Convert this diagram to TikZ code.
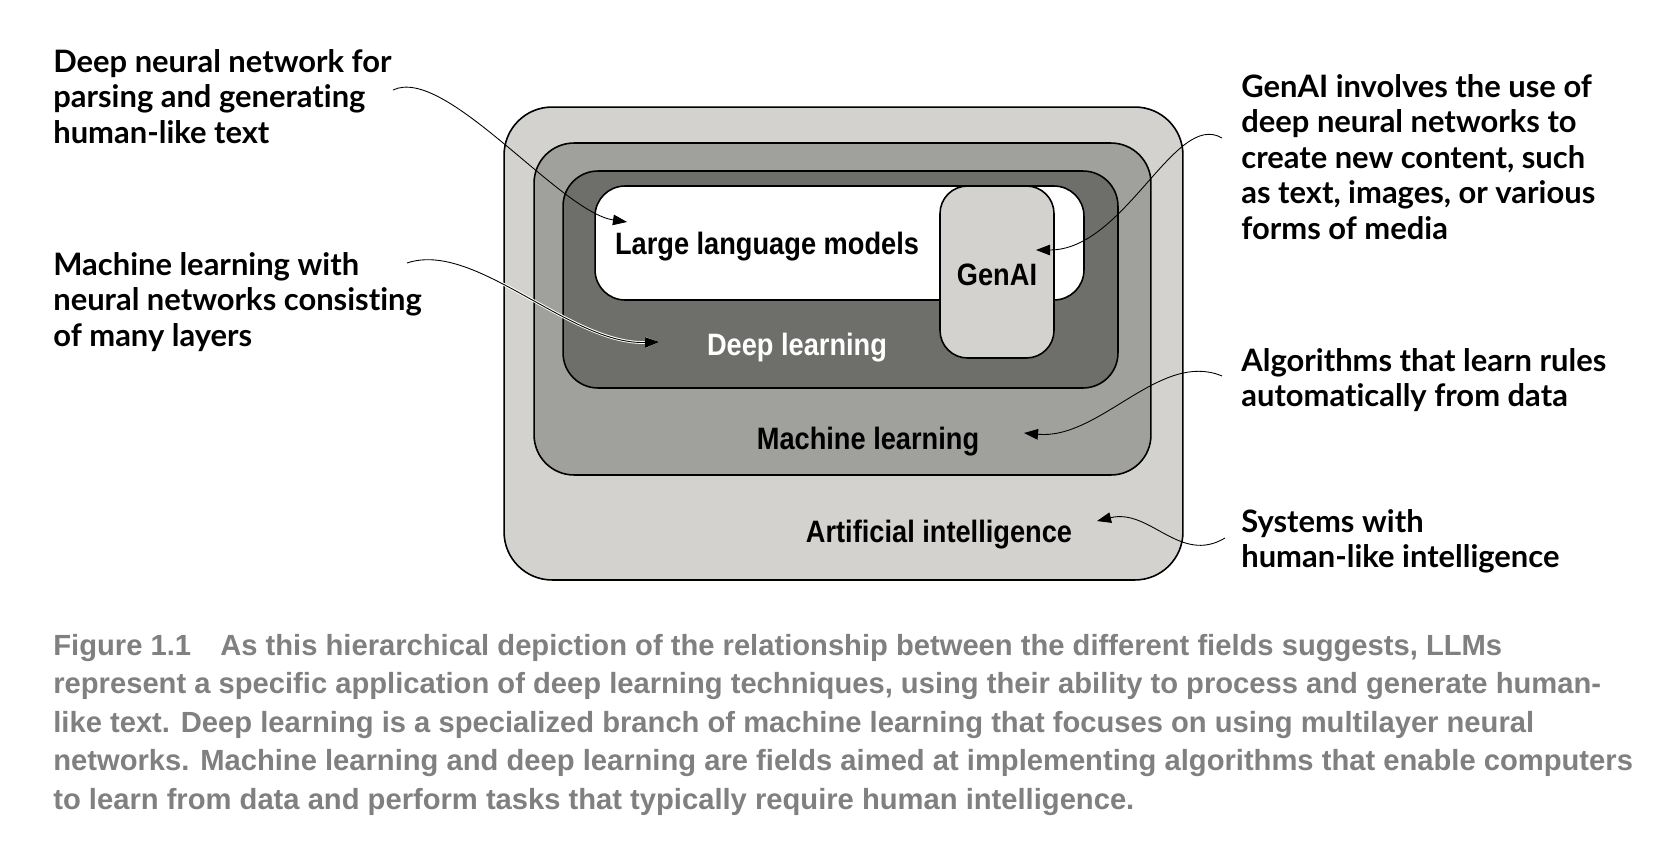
\documentclass[tikz,border=0pt]{standalone}
\usepackage{fontspec}
\usepackage{xcolor}
\usetikzlibrary{arrows.meta}
\setmainfont{Lato}[Ligatures=NoCommon]
\newfontfamily\boxfont[FakeStretch=0.88]{Liberation Sans}
\newfontfamily\capfont{Liberation Sans}
\definecolor{aigray}{HTML}{D3D2CE}
\definecolor{mlgray}{HTML}{A0A09C}
\definecolor{dlgray}{HTML}{6E6E6A}
\definecolor{capgray}{HTML}{808080}

\begin{document}
\begin{tikzpicture}[x=0.02cm,y=-0.02cm,
    field/.style={draw=black,line width=0.9pt,rounded corners=#1,inner sep=0pt},
    fieldtext/.style={inner sep=0pt,font=\boxfont\bfseries\fontsize{17.6}{20}\selectfont},
    note/.style={anchor=north west,inner sep=0pt,align=left,
                 font=\bfseries\fontsize{17.6}{20.2}\selectfont},
    pointer/.style={-{Triangle[length=8pt,width=6pt]},line width=0.5pt},
    halo/.style={preaction={draw=white,line width=1.6pt}}]
  \useasboundingbox[fill=white] (0,0) rectangle (1666,842);

  \node[field=0.96cm,fill=aigray,minimum width=13.58cm,minimum height=9.46cm] (ai) at (843.5,343.5) {};
  \node[field=0.8cm,fill=mlgray,minimum width=12.34cm,minimum height=6.64cm] (ml) at (842.5,309) {};
  \node[field=0.7cm,fill=dlgray,minimum width=11.10cm,minimum height=4.34cm] (dl) at (840.5,279.5) {};
  \node[field=0.6cm,fill=white,minimum width=9.78cm,minimum height=2.28cm] (llm) at (839.5,243) {};
  \node[field=0.55cm,fill=aigray,minimum width=2.28cm,minimum height=3.44cm] (genai) at (997,272) {};

  \node[fieldtext] (llmlab) at (767,247) {Large language models};
  \node[fieldtext] (genailab) at (997,275) {GenAI};
  \node[fieldtext,text=white] (dllab) at (797,348) {Deep learning};
  \node[fieldtext] (mllab) at (868,442) {Machine learning};
  \node[fieldtext] (ailab) at (939,535) {Artificial intelligence};

  \node[note] (dnn) at (53,49) {Deep neural network for\\parsing and generating\\human-like text};
  \node[note] (layers) at (53,252) {Machine learning with\\neural networks consisting\\of many layers};
  \node[note] (gen) at (1241,74) {GenAI involves the use of\\deep neural networks to\\create new content, such\\as text, images, or various\\forms of media};
  \node[note] (rules) at (1241,348) {Algorithms that learn rules\\automatically from data};
  \node[note] (systems) at (1241,509) {Systems with\\human-like intelligence};

  \coordinate (dnnstart) at (393,90);
  \coordinate (dnntip) at (627,222);
  \coordinate (layersstart) at (407,263);
  \coordinate (layerstip) at (659,342);
  \coordinate (genstart) at (1222,138);
  \coordinate (gentip) at (1036,250);
  \coordinate (rulesstart) at (1222,376);
  \coordinate (rulestip) at (1024,433);
  \coordinate (systemsstart) at (1225,538);
  \coordinate (systemstip) at (1097,521);

  \draw[pointer] (dnnstart) .. controls (445,65) and (560,212) .. (dnntip);
  \draw[pointer,halo] (layersstart) .. controls (475,240) and (570,345) .. (layerstip);
  \draw[pointer] (genstart) .. controls (1175,110) and (1125,250) .. (gentip);
  \draw[pointer] (rulesstart) .. controls (1160,350) and (1100,440) .. (rulestip);
  \draw[pointer] (systemsstart) .. controls (1180,565) and (1150,508) .. (systemstip);

  \node[anchor=north west,inner sep=0pt,align=left,text=capgray,
        font=\capfont\bfseries\fontsize{16.6}{21.9}\selectfont] (caption) at (53,634)
    {Figure 1.1\quad As this hierarchical depiction of the relationship between the different fields suggests, LLMs\\
     represent a specific application of deep learning techniques, using their ability to process and generate human-\\
     like text. Deep learning is a specialized branch of machine learning that focuses on using multilayer neural\\
     networks. Machine learning and deep learning are fields aimed at implementing algorithms that enable computers\\
     to learn from data and perform tasks that typically require human intelligence.};
\end{tikzpicture}
\end{document}
